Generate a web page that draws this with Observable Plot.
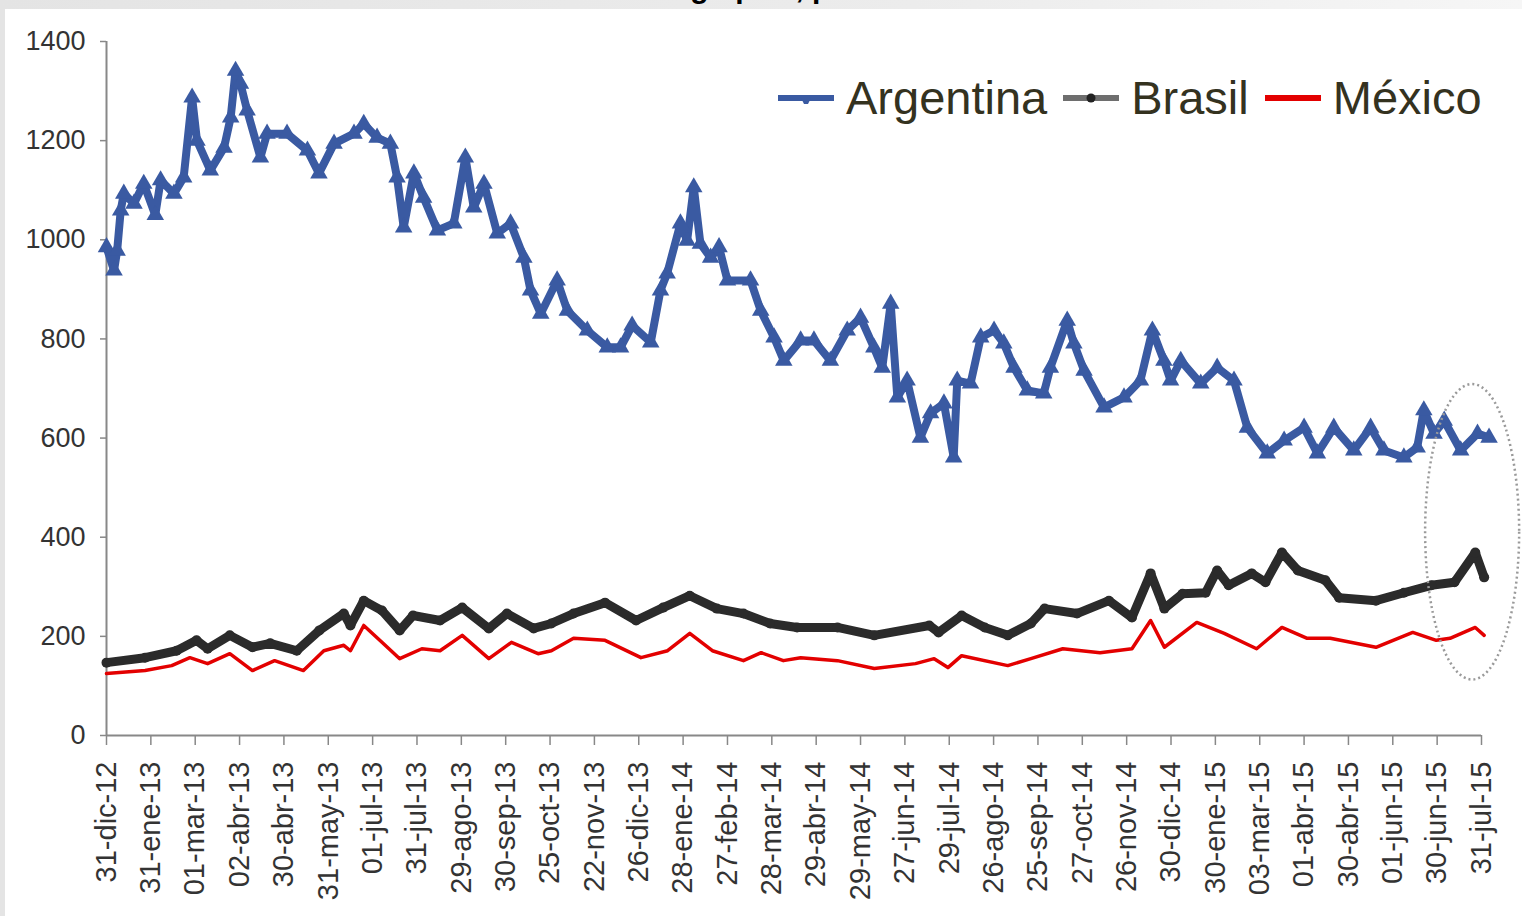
<!DOCTYPE html>
<html>
<head>
<meta charset="utf-8">
<script src="https://cdn.jsdelivr.net/npm/d3@7"></script>
<script src="https://cdn.jsdelivr.net/npm/@observablehq/plot@0.6"></script>
<style>
  html, body { margin: 0; padding: 0; background: #fff; }
  #wrap { position: relative; width: 1522px; height: 916px; overflow: hidden; background: #fff; font-family: "Liberation Sans", Arial, sans-serif; }
  #topstrip { position: absolute; left: 0; top: 0; width: 1522px; height: 9px; background: linear-gradient(to right, #e4e4e4, #ececec 60%, #f6f6f6); overflow: hidden; }
  #leftstrip { position: absolute; left: 0; top: 0; width: 5px; height: 916px; background: #e4e4e4; }
  #title { position: absolute; left: 627px; top: -29px; font-size: 30px; font-weight: bold; color: #000; white-space: nowrap; }
  #legend { position: absolute; left: 778px; top: 70px; display: flex; align-items: center; color: #34321f; font-size: 47px; white-space: nowrap; }
  #legend .item { display: flex; align-items: center; margin-right: 16px; }
  #legend svg { margin-right: 12px; }
</style>
</head>
<body>
<div id="wrap">
  <div id="chart"></div>
  <div id="leftstrip"></div>
  <div id="topstrip"><div id="title">Riesgo país, puntos básicos</div></div>
  <div id="legend"></div>
</div>
<script>
// ---- Data (x = position on the category axis, in tick intervals; y = basis points) ----
const tickLabels = ["31-dic-12","31-ene-13","01-mar-13","02-abr-13","30-abr-13","31-may-13","01-jul-13","31-jul-13",
  "29-ago-13","30-sep-13","25-oct-13","22-nov-13","26-dic-13","28-ene-14","27-feb-14","28-mar-14","29-abr-14",
  "29-may-14","27-jun-14","29-jul-14","26-ago-14","25-sep-14","27-oct-14","26-nov-14","30-dic-14","30-ene-15",
  "03-mar-15","01-abr-15","30-abr-15","01-jun-15","30-jun-15","31-jul-15"];
const yTicks = [0, 200, 400, 600, 800, 1000, 1200, 1400];

const argentina = [[0,985],[0.17,938],[0.24,978],[0.32,1059],[0.39,1093],[0.62,1073],[0.84,1113],[1.10,1050],[1.22,1120],
  [1.52,1093],[1.74,1126],[1.93,1287],[2.04,1200],[2.34,1140],[2.65,1186],[2.80,1247],[2.91,1341],[3.02,1315],[3.17,1261],
  [3.47,1166],[3.62,1214],[4.07,1214],[4.53,1180],[4.79,1134],[5.13,1194],[5.58,1214],[5.80,1234],[6.10,1206],[6.40,1194],
  [6.55,1126],[6.70,1025],[6.93,1134],[7.15,1085],[7.46,1019],[7.83,1033],[8.09,1166],[8.28,1065],[8.51,1113],[8.81,1013],
  [9.11,1033],[9.41,964],[9.56,898],[9.79,851],[10.16,918],[10.39,857],[10.84,817],[11.29,783],[11.59,783],[11.85,827],
  [12.27,793],[12.49,898],[12.64,932],[12.94,1033],[13.09,998],[13.24,1106],[13.39,992],[13.62,964],[13.81,985],[14.00,918],
  [14.52,918],[14.75,857],[15.05,803],[15.27,756],[15.65,797],[15.95,797],[16.32,756],[16.70,817],[17.00,843],[17.30,783],
  [17.49,742],[17.68,871],[17.83,682],[18.05,716],[18.35,601],[18.58,650],[18.88,670],[19.10,561],[19.18,716],[19.48,710],
  [19.71,803],[20.01,817],[20.23,791],[20.46,742],[20.76,696],[21.13,690],[21.28,742],[21.66,837],[21.81,791],[22.04,736],
  [22.49,662],[22.94,682],[23.31,716],[23.58,817],[23.84,756],[23.99,716],[24.22,756],[24.67,710],[25.04,742],[25.42,716],
  [25.72,621],[26.17,569],[26.55,595],[27.00,621],[27.30,569],[27.67,621],[28.12,575],[28.50,621],[28.80,575],[29.25,561],
  [29.55,581],[29.70,656],[29.93,609],[30.16,635],[30.53,575],[30.91,609],[31.17,601]];

const brasil = [[0,147],[0.87,157],[1.58,171],[2.03,192],[2.28,175],[2.78,202],[3.29,178],[3.69,186],[4.29,171],[4.80,212],
  [5.35,246],[5.50,222],[5.80,272],[6.21,252],[6.61,212],[6.91,242],[7.52,232],[8.02,258],[8.62,216],[9.03,246],[9.63,216],
  [10.03,226],[10.53,246],[11.24,268],[11.94,232],[12.55,258],[13.15,282],[13.76,256],[14.36,246],[14.96,226],[15.57,218],
  [16.48,218],[17.31,202],[18.55,222],[18.76,208],[19.28,242],[19.80,218],[20.32,202],[20.84,226],[21.15,256],[21.88,246],
  [22.60,272],[23.12,238],[23.54,327],[23.85,256],[24.26,286],[24.78,288],[25.04,333],[25.30,303],[25.82,327],[26.13,309],
  [26.50,369],[26.86,333],[27.48,313],[27.79,278],[28.62,272],[29.25,288],[29.87,303],[30.39,309],[30.86,369],[31.06,319]];

const mexico = [[0,125],[0.87,131],[1.47,141],[1.88,157],[2.28,145],[2.78,165],[3.29,131],[3.79,151],[4.44,131],[4.90,171],
  [5.35,182],[5.50,171],[5.80,222],[6.21,188],[6.61,155],[7.11,175],[7.52,171],[8.02,202],[8.62,155],[9.13,188],[9.73,165],
  [10.03,171],[10.53,196],[11.24,192],[12.05,157],[12.65,171],[13.15,206],[13.66,171],[14.36,151],[14.76,167],[15.26,151],
  [15.65,157],[16.48,151],[17.31,135],[18.24,145],[18.66,155],[18.97,137],[19.28,161],[20.32,141],[20.84,155],[21.56,175],
  [22.40,167],[23.12,175],[23.54,232],[23.85,178],[24.58,228],[25.20,206],[25.93,175],[26.50,218],[27.07,196],[27.59,196],
  [28.62,178],[29.45,208],[29.98,192],[30.29,196],[30.86,218],[31.06,202]];

// dotted ellipse annotation around the latest observations: center [x, y], radii [x, y]
const highlightCenter = [30.8, 410];
const highlightRadii = [1.06, 298];

const seriesNames = ["Argentina", "Brasil", "México"];
const seriesColors = ["#3a5aa2", "#2b2b2b", "#e30000"];

// ---- Chart ----
const toRows = arr => arr.map(([t, v]) => ({t, v}));
const arg = toRows(argentina), bra = toRows(brasil), mex = toRows(mexico);

const ellipseMark = (index, scales, values, dimensions) => {
  const sx = typeof scales.x === "function" ? scales.x : scales.x.apply;
  const sy = typeof scales.y === "function" ? scales.y : scales.y.apply;
  const cx = sx(highlightCenter[0]), cy = sy(highlightCenter[1]);
  const rx = Math.abs(sx(highlightCenter[0] + highlightRadii[0]) - cx);
  const ry = Math.abs(sy(highlightCenter[1] + highlightRadii[1]) - cy);
  const e = document.createElementNS("http://www.w3.org/2000/svg", "ellipse");
  e.setAttribute("cx", cx); e.setAttribute("cy", cy);
  e.setAttribute("rx", rx); e.setAttribute("ry", ry);
  e.setAttribute("fill", "none");
  e.setAttribute("stroke", "#9a9a9a");
  e.setAttribute("stroke-width", 2.5);
  e.setAttribute("stroke-dasharray", "2,3");
  return e;
};

const chart = Plot.plot({
  width: 1522,
  height: 916,
  marginLeft: 106,
  marginRight: 41,
  marginTop: 41,
  marginBottom: 181,
  style: { fontFamily: "'Liberation Sans', Arial, sans-serif", color: "#333", background: "transparent", overflow: "visible" },
  x: { domain: [0, 31] },
  y: { domain: [0, 1400] },
  marks: [
    Plot.axisY({ ticks: yTicks, tickSize: 6, tickPadding: 15, fontSize: 27, stroke: "#888", strokeWidth: 1.5, label: null, tickFormat: d => String(d) }),
    Plot.axisX({ ticks: d3.range(tickLabels.length), tickFormat: i => tickLabels[i], tickRotate: -90, tickSize: 10, tickPadding: 16, fontSize: 29, stroke: "#888", strokeWidth: 1.5, label: null }),
    Plot.ruleX([0], { stroke: "#888", strokeWidth: 2 }),
    Plot.line(mex, { x: "t", y: "v", stroke: seriesColors[2], strokeWidth: 3.5, curve: "linear" }),
    Plot.line(bra, { x: "t", y: "v", stroke: seriesColors[1], strokeWidth: 9, strokeLinejoin: "round", curve: "linear" }),
    Plot.dot(bra, { x: "t", y: "v", r: 5, fill: seriesColors[1] }),
    Plot.line(arg, { x: "t", y: "v", stroke: seriesColors[0], strokeWidth: 8, strokeLinejoin: "round", curve: "linear" }),
    Plot.dot(arg, { x: "t", y: "v", symbol: "triangle", r: 6.5, fill: seriesColors[0] }),
    Plot.ruleY([0], { stroke: "#888", strokeWidth: 2 }),
    ellipseMark
  ]
});
document.getElementById("chart").appendChild(chart);

// ---- Legend ----
const legend = document.getElementById("legend");
seriesNames.forEach((name, i) => {
  const item = document.createElement("div");
  item.className = "item";
  const ns = "http://www.w3.org/2000/svg";
  const sw = document.createElementNS(ns, "svg");
  sw.setAttribute("width", 56); sw.setAttribute("height", 30);
  const ln = document.createElementNS(ns, "line");
  ln.setAttribute("x1", 0); ln.setAttribute("x2", 56); ln.setAttribute("y1", 15); ln.setAttribute("y2", 15);
  ln.setAttribute("stroke", i === 1 ? "#6e6e6e" : seriesColors[i]);
  ln.setAttribute("stroke-width", 6);
  sw.appendChild(ln);
  if (i === 0) {
    const m = document.createElementNS(ns, "path");
    m.setAttribute("d", "M23,15 L33,15 L30,21 L26,21 Z");
    m.setAttribute("fill", seriesColors[0]);
    sw.appendChild(m);
  } else if (i === 1) {
    const c = document.createElementNS(ns, "circle");
    c.setAttribute("cx", 28); c.setAttribute("cy", 15); c.setAttribute("r", 4.5);
    c.setAttribute("fill", "#222");
    sw.appendChild(c);
  }
  item.appendChild(sw);
  const label = document.createElement("span");
  label.textContent = name;
  item.appendChild(label);
  legend.appendChild(item);
});
</script>
</body>
</html>
